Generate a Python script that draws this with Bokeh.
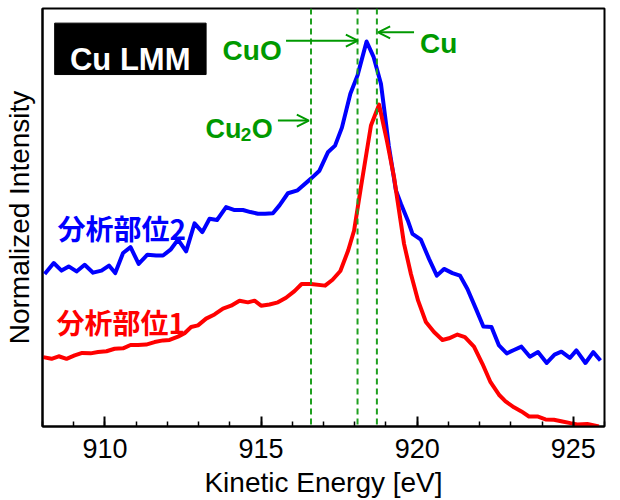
from bokeh.plotting import figure
from bokeh.models import Range1d, SingleIntervalTicker, FixedTicker, Span, Arrow, OpenHead
from bokeh.core.properties import value
from bokeh.embed import file_html
from bokeh.resources import INLINE

# ---- data ----
energy_site2 = [908.07, 908.36, 908.61, 908.84, 909.09, 909.35, 909.62, 909.89, 910.13, 910.33,
                910.58, 910.82, 911.08, 911.36, 911.64, 911.86, 912.10, 912.34, 912.60, 912.87,
                913.12, 913.35, 913.59, 913.88, 914.13, 914.42, 914.66, 914.90, 915.13, 915.38,
                915.59, 915.86, 916.17, 916.60, 916.87, 917.14, 917.37, 917.59, 917.86, 918.09,
                918.38, 918.60, 918.84, 918.97, 919.09, 919.32, 919.48, 919.70, 919.85, 920.12,
                920.38, 920.63, 920.86, 921.13, 921.37, 921.61, 921.88, 922.12, 922.38, 922.62,
                922.87, 923.10, 923.34, 923.61, 923.87, 924.15, 924.40, 924.62, 924.89, 925.10,
                925.39, 925.64, 925.87]
intensity_site2 = [0.365, 0.391, 0.373, 0.383, 0.371, 0.387, 0.368, 0.373, 0.385, 0.367,
                   0.415, 0.429, 0.389, 0.411, 0.409, 0.409, 0.423, 0.447, 0.419, 0.486,
                   0.465, 0.497, 0.494, 0.525, 0.518, 0.518, 0.513, 0.509, 0.509, 0.510,
                   0.529, 0.558, 0.565, 0.593, 0.612, 0.656, 0.672, 0.715, 0.796, 0.840,
                   0.921, 0.885, 0.820, 0.744, 0.672, 0.565, 0.533, 0.493, 0.461, 0.447,
                   0.401, 0.361, 0.377, 0.367, 0.361, 0.329, 0.282, 0.239, 0.238, 0.194,
                   0.175, 0.183, 0.191, 0.167, 0.178, 0.152, 0.172, 0.179, 0.164, 0.182,
                   0.152, 0.178, 0.158]

energy_site1 = [908.02, 908.29, 908.52, 908.77, 909.03, 909.27, 909.54, 909.78, 910.05, 910.31,
                910.58, 910.82, 911.06, 911.32, 911.59, 911.86, 912.07, 912.34, 912.55, 912.76,
                912.98, 913.24, 913.51, 913.78, 914.04, 914.31, 914.58, 914.79, 915.00, 915.27,
                915.54, 915.80, 916.07, 916.30, 916.60, 917.05, 917.29, 917.54, 917.79, 917.98,
                918.20, 918.52, 918.78, 919.03, 919.26, 919.37, 919.58, 919.80, 920.03, 920.28,
                920.54, 920.81, 921.02, 921.29, 921.53, 921.82, 922.09, 922.35, 922.62, 922.83,
                923.10, 923.34, 923.58, 923.85, 924.11, 924.38, 924.65, 924.91, 925.13, 925.45,
                925.82]
intensity_site1 = [0.166, 0.162, 0.168, 0.162, 0.170, 0.176, 0.175, 0.178, 0.180, 0.186,
                   0.187, 0.195, 0.195, 0.196, 0.202, 0.206, 0.207, 0.215, 0.223, 0.238,
                   0.242, 0.258, 0.268, 0.282, 0.289, 0.301, 0.297, 0.301, 0.289, 0.292,
                   0.297, 0.308, 0.324, 0.341, 0.341, 0.337, 0.351, 0.372, 0.421, 0.469,
                   0.573, 0.720, 0.770, 0.684, 0.596, 0.541, 0.437, 0.365, 0.301, 0.250,
                   0.226, 0.207, 0.211, 0.220, 0.214, 0.191, 0.150, 0.106, 0.076, 0.060,
                   0.046, 0.036, 0.024, 0.024, 0.017, 0.016, 0.012, 0.008, 0.005, 0.006,
                   0.000]

reference_energies = [916.60, 918.09, 918.71]   # Cu2O, CuO, Cu
x_ticks_interval = 5

# ---- styles ----
BLUE = "#0000ff"
RED = "#ff0000"
GREEN = "#009900"
DASH_GREEN = "#1fa01f"
FONT = "Liberation Sans"
CJK = "Noto Sans CJK JP"

p = figure(width=620, height=500, output_backend="svg", toolbar_location=None,
           x_range=Range1d(908, 926), y_range=Range1d(0, 1),
           min_border_left=41, min_border_right=16, min_border_top=8, min_border_bottom=74)
p.background_fill_color = "white"
p.border_fill_color = "white"
p.outline_line_color = "black"
p.outline_line_width = 2
p.grid.visible = False

# x axis
xa = p.xaxis[0]
xa.ticker = SingleIntervalTicker(interval=x_ticks_interval, num_minor_ticks=5)
xa.axis_label = "Kinetic Energy [eV]"
xa.axis_label_text_font = FONT
xa.axis_label_text_font_size = "28px"
xa.axis_label_text_font_style = "normal"
xa.axis_label_text_color = "black"
xa.axis_label_standoff = 6
xa.major_label_text_font = FONT
xa.major_label_text_font_size = "27px"
xa.major_label_text_color = "black"
xa.major_label_standoff = 12
xa.axis_line_width = 2
xa.axis_line_color = "black"
xa.major_tick_in = 10
xa.major_tick_out = 0
xa.minor_tick_in = 5
xa.minor_tick_out = 0
xa.major_tick_line_width = 2
xa.minor_tick_line_width = 1.5
xa.major_tick_line_color = "black"
xa.minor_tick_line_color = "black"

# y axis
ya = p.yaxis[0]
ya.ticker = FixedTicker(ticks=[])
ya.axis_label = "Normalized Intensity"
ya.axis_label_text_font = FONT
ya.axis_label_text_font_size = "28px"
ya.axis_label_text_font_style = "normal"
ya.axis_label_text_color = "black"
ya.axis_label_standoff = 8
ya.major_tick_in = 0
ya.major_tick_out = 0
ya.minor_tick_in = 0
ya.minor_tick_out = 0
ya.major_label_text_font_size = "0px"
ya.axis_line_width = 2
ya.axis_line_color = "black"

# reference dashed lines
for e in reference_energies:
    p.add_layout(Span(location=e, dimension="height", line_color=DASH_GREEN,
                      line_width=2, line_dash="6 4"))

# spectra
p.line(energy_site2, intensity_site2, line_color=BLUE, line_width=4, line_join="round")
p.line(energy_site1, intensity_site1, line_color=RED, line_width=4, line_join="round")

# "Cu LMM" box
p.quad(left=[908.39], right=[913.24], bottom=[0.842], top=[0.965],
       fill_color="black", line_color="black")
p.text(x=[910.81], y=[0.877], text=["Cu LMM"], text_color="white",
       text_font=value(FONT), text_font_style="bold", text_font_size="31px",
       text_align="center", text_baseline="alphabetic")

# species labels and arrows
head = dict(size=12, line_color=GREEN, line_width=2)
p.text(x=[915.66], y=[0.900], text=["CuO"], text_color=GREEN, text_font=value(FONT),
       text_font_style="bold", text_font_size="28px", text_align="right",
       text_baseline="alphabetic")
p.add_layout(Arrow(end=OpenHead(**head), x_start=915.80, y_start=0.923, x_end=918.10,
                   y_end=0.923, line_color=GREEN, line_width=2))

p.text(x=[920.09], y=[0.917], text=["Cu"], text_color=GREEN, text_font=value(FONT),
       text_font_style="bold", text_font_size="28px", text_align="left",
       text_baseline="alphabetic")
p.add_layout(Arrow(end=OpenHead(**head), x_start=919.90, y_start=0.943, x_end=918.75,
                   y_end=0.943, line_color=GREEN, line_width=2))

p.text(x=[913.22], y=[0.712], text=["Cu"], text_color=GREEN, text_font=value(FONT),
       text_font_style="bold", text_font_size="27px", text_align="left",
       text_baseline="alphabetic")
p.text(x=[914.35], y=[0.698], text=["2"], text_color=GREEN, text_font=value(FONT),
       text_font_style="bold", text_font_size="19px", text_align="left",
       text_baseline="alphabetic")
p.text(x=[914.70], y=[0.712], text=["O"], text_color=GREEN, text_font=value(FONT),
       text_font_style="bold", text_font_size="27px", text_align="left",
       text_baseline="alphabetic")
p.add_layout(Arrow(end=OpenHead(**head), x_start=915.54, y_start=0.732, x_end=916.53,
                   y_end=0.732, line_color=GREEN, line_width=2))

# site labels
p.text(x=[908.48], y=[0.476], text=["分析部位2"], text_color=BLUE, text_font=value(CJK),
       text_font_style="bold", text_font_size="28px", text_align="left",
       text_baseline="alphabetic")
p.text(x=[908.45], y=[0.251], text=["分析部位1"], text_color=RED, text_font=value(CJK),
       text_font_style="bold", text_font_size="28px", text_align="left",
       text_baseline="alphabetic")

open("out.html", "w").write(file_html(p, INLINE))
